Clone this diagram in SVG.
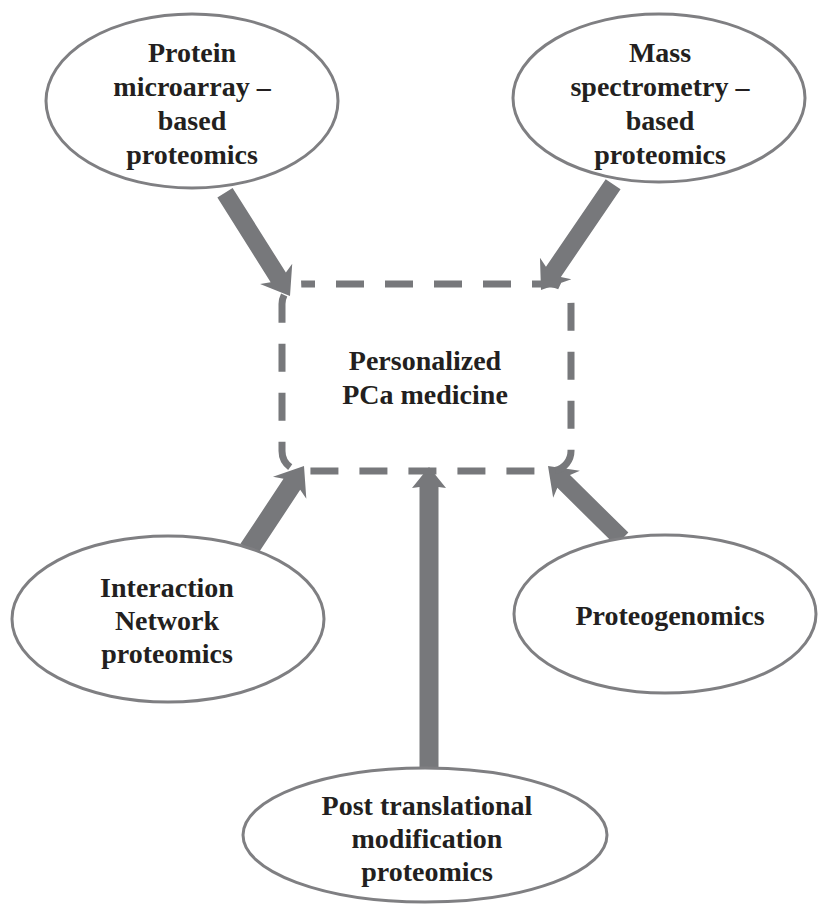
<svg xmlns="http://www.w3.org/2000/svg" width="819" height="905" viewBox="0 0 819 905">
<style>
.bg{fill:#ffffff}
.node ellipse{fill:#ffffff;stroke:#7f7f82;stroke-width:3}
.box{fill:none;stroke:#77787b;stroke-width:7;stroke-dasharray:28 21;stroke-dashoffset:15}
.arrow{fill:#77787b}
text{font-family:"Liberation Serif","Times New Roman",serif;font-weight:bold;font-size:28px;fill:#231f20;text-anchor:middle}
</style>
<rect class="bg" x="0" y="0" width="819" height="905"/>
<g id="connectors">
  <polygon class="arrow" transform="translate(290,296) rotate(57.8)" points="-122,-9 -22,-9 -26,-19 0,0 -26,19 -22,9 -122,9"/>
  <polygon class="arrow" transform="translate(541,290) rotate(124.3)" points="-128,-9 -22,-9 -26,-19 0,0 -26,19 -22,9 -128,9"/>
  <polygon class="arrow" transform="translate(304,466) rotate(-56.5)" points="-100,-10 -22,-10 -26,-20 0,0 -26,20 -22,10 -100,10"/>
  <polygon class="arrow" transform="translate(429,467) rotate(-90)" points="-305,-9.5 -20,-9.5 -21,-17 0,0 -21,17 -20,9.5 -305,9.5"/>
  <polygon class="arrow" transform="translate(548,466) rotate(-135.4)" points="-104,-9 -22,-9 -26,-19 0,0 -26,19 -22,9 -104,9"/>
</g>
<g id="center" class="node">
  <rect class="box" x="282" y="284" width="289" height="187" rx="20" ry="20"/>
  <text x="425" y="370">Personalized</text>
  <text x="425" y="404">PCa medicine</text>
</g>
<g id="protein-microarray" class="node">
  <ellipse cx="192" cy="101" rx="146" ry="87"/>
  <text x="192" y="62">Protein</text>
  <text x="192" y="96">microarray –</text>
  <text x="192" y="130">based</text>
  <text x="192" y="164">proteomics</text>
</g>
<g id="mass-spectrometry" class="node">
  <ellipse cx="659" cy="98" rx="146" ry="84"/>
  <text x="660" y="62">Mass</text>
  <text x="660" y="96">spectrometry –</text>
  <text x="660" y="130">based</text>
  <text x="660" y="164">proteomics</text>
</g>
<g id="interaction-network" class="node">
  <ellipse cx="168" cy="619" rx="156" ry="83"/>
  <text x="167" y="597">Interaction</text>
  <text x="167" y="630">Network</text>
  <text x="167" y="663">proteomics</text>
</g>
<g id="proteogenomics" class="node">
  <ellipse cx="665" cy="614" rx="151" ry="79"/>
  <text x="670" y="625">Proteogenomics</text>
</g>
<g id="post-translational" class="node">
  <ellipse cx="425" cy="835" rx="182" ry="67"/>
  <text x="427" y="815">Post translational</text>
  <text x="427" y="848">modification</text>
  <text x="427" y="881">proteomics</text>
</g>
</svg>
